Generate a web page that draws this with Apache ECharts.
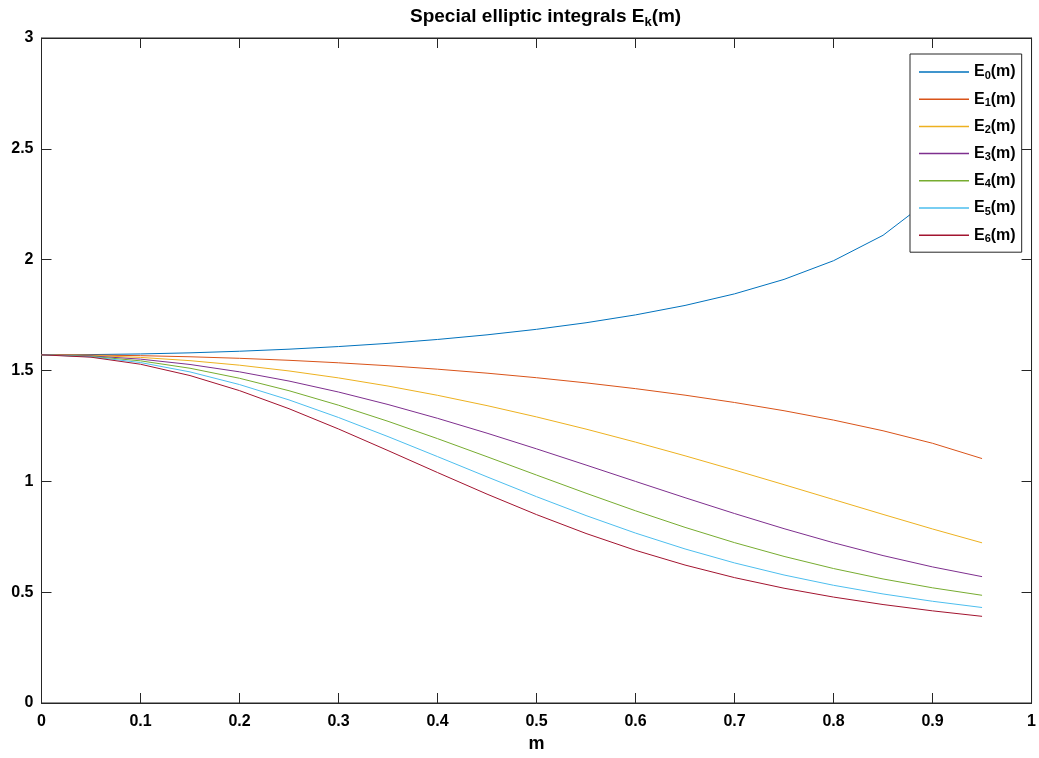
<!DOCTYPE html>
<html>
<head>
<meta charset="utf-8">
<script src="https://cdn.jsdelivr.net/npm/echarts@6/dist/echarts.min.js"></script>
<style>
  html, body { margin: 0; padding: 0; background: #fff; }
  #main { width: 1039px; height: 758px; }
</style>
</head>
<body>
<div id="main"></div>
<script>
// m values (modulus), 0 : 0.05 : 0.95
var mValues = [0, 0.05, 0.1, 0.15, 0.2, 0.25, 0.3, 0.35, 0.4, 0.45,
               0.5, 0.55, 0.6, 0.65, 0.7, 0.75, 0.8, 0.85, 0.9, 0.95];

var e0 = [1.5708, 1.5718, 1.5747, 1.5797, 1.5869, 1.5962, 1.6080, 1.6225, 1.6400, 1.6609,
          1.6858, 1.7154, 1.7508, 1.7935, 1.8457, 1.9110, 1.9953, 2.1099, 2.2805, 2.5900];
var e1 = [1.5708, 1.5698, 1.5669, 1.5619, 1.5550, 1.5460, 1.5348, 1.5215, 1.5059, 1.4880,
          1.4675, 1.4442, 1.4181, 1.3887, 1.3557, 1.3185, 1.2763, 1.2281, 1.1717, 1.1027];
var e2 = [1.5708, 1.5679, 1.5590, 1.5444, 1.5240, 1.4980, 1.4666, 1.4299, 1.3881, 1.3416,
          1.2906, 1.2356, 1.1769, 1.1152, 1.0509, 0.9849, 0.9178, 0.8508, 0.7851, 0.7226];
var e3 = [1.5708, 1.5659, 1.5513, 1.5272, 1.4940, 1.4524, 1.4029, 1.3466, 1.2843, 1.2172,
          1.1465, 1.0735, 0.9996, 0.9262, 0.8547, 0.7865, 0.7229, 0.6650, 0.6139, 0.5700];
var e4 = [1.5708, 1.5639, 1.5436, 1.5102, 1.4649, 1.4088, 1.3435, 1.2708, 1.1926, 1.1111,
          1.0283, 0.9464, 0.8671, 0.7923, 0.7234, 0.6613, 0.6066, 0.5595, 0.5196, 0.4859];
var e5 = [1.5708, 1.5620, 1.5359, 1.4936, 1.4366, 1.3673, 1.2880, 1.2018, 1.1116, 1.0203,
          0.9308, 0.8456, 0.7665, 0.6950, 0.6319, 0.5774, 0.5310, 0.4919, 0.4589, 0.4308];
var e6 = [1.5708, 1.5600, 1.5283, 1.4772, 1.4092, 1.3276, 1.2362, 1.1388, 1.0397, 0.9423,
          0.8499, 0.7648, 0.6887, 0.6223, 0.5656, 0.5178, 0.4778, 0.4442, 0.4157, 0.3910];

var seriesNames = ['E0(m)', 'E1(m)', 'E2(m)', 'E3(m)', 'E4(m)', 'E5(m)', 'E6(m)'];
var colors = ['#0072BD', '#D95319', '#EDB120', '#7E2F8E', '#77AC30', '#4DBEEE', '#A2142F'];
var allData = [e0, e1, e2, e3, e4, e5, e6];

var fontFam = 'Liberation Sans, Arial, Helvetica, sans-serif';
var axisColor = '#262626';

var series = [];
for (var i = 0; i < allData.length; i++) {
    var pts = [];
    for (var j = 0; j < mValues.length; j++) {
        pts.push([mValues[j], allData[i][j]]);
    }
    series.push({
        name: seriesNames[i],
        type: 'line',
        data: pts,
        symbol: 'none',
        smooth: false,
        z: 2,
        color: colors[i],
        lineStyle: { width: 1, color: colors[i] }
    });
}

var chart = echarts.init(document.getElementById('main'), null, { renderer: 'canvas' });

var option = {
    animation: false,
    backgroundColor: '#fff',
    title: {
        text: '{b|Special elliptic integrals E}{s|k}{b|(m)}',
        left: 405,
        top: 0,
        textStyle: {
            rich: {
                b: { fontFamily: fontFam, fontWeight: 'bold', fontSize: 19, lineHeight: 24, color: '#000' },
                s: { fontFamily: fontFam, fontWeight: 'bold', fontSize: 13, lineHeight: 13, color: '#000', verticalAlign: 'bottom' }
            }
        }
    },
    legend: {
        show: true,
        orient: 'vertical',
        left: 910,
        top: 54,
        padding: [10, 6, 8, 9],
        itemWidth: 50,
        itemHeight: 1.5,
        itemGap: 10.2,
        icon: 'rect',
        backgroundColor: '#fff',
        borderColor: axisColor,
        borderWidth: 1,
        data: seriesNames,
        formatter: function (name) {
            var idx = name.charAt(1);
            return '{b|E}{s|' + idx + '}{b|(m)}';
        },
        textStyle: {
            rich: {
                b: { fontFamily: fontFam, fontWeight: 'bold', fontSize: 16, lineHeight: 18, color: '#000' },
                s: { fontFamily: fontFam, fontWeight: 'bold', fontSize: 11, lineHeight: 9, color: '#000', verticalAlign: 'bottom' }
            }
        }
    },
    grid: {
        left: 41.5,
        right: 5,
        top: 38,
        bottom: 54,
        show: true,
        borderColor: axisColor,
        borderWidth: 1,
        backgroundColor: '#fff'
    },
    xAxis: [{
        type: 'value',
        min: 0,
        max: 1,
        interval: 0.1,
        name: 'm',
        nameLocation: 'middle',
        nameGap: 32,
        nameTextStyle: { fontFamily: fontFam, fontWeight: 'bold', fontSize: 18, color: '#000' },
        axisLine: { show: true, onZero: false, lineStyle: { color: axisColor, width: 1 } },
        axisTick: { show: true, inside: true, length: 10, lineStyle: { color: axisColor } },
        axisLabel: { margin: 11, fontFamily: fontFam, fontWeight: 'bold', fontSize: 16, color: '#000' },
        splitLine: { show: false }
    }, {
        type: 'value',
        position: 'top',
        min: 0,
        max: 1,
        interval: 0.1,
        axisLine: { show: true, onZero: false, lineStyle: { color: axisColor, width: 1 } },
        axisTick: { show: true, inside: true, length: 10, lineStyle: { color: axisColor } },
        axisLabel: { show: false },
        splitLine: { show: false }
    }],
    yAxis: [{
        type: 'value',
        min: 0,
        max: 3,
        interval: 0.5,
        axisLine: { show: true, onZero: false, lineStyle: { color: axisColor, width: 1 } },
        axisTick: { show: true, inside: true, length: 10, lineStyle: { color: axisColor } },
        axisLabel: { margin: 8, fontFamily: fontFam, fontWeight: 'bold', fontSize: 16, color: '#000' },
        splitLine: { show: false }
    }, {
        type: 'value',
        position: 'right',
        min: 0,
        max: 3,
        interval: 0.5,
        axisLine: { show: true, onZero: false, lineStyle: { color: axisColor, width: 1 } },
        axisTick: { show: true, inside: true, length: 10, lineStyle: { color: axisColor } },
        axisLabel: { show: false },
        splitLine: { show: false }
    }],
    series: series
};

chart.setOption(option);
</script>
</body>
</html>
